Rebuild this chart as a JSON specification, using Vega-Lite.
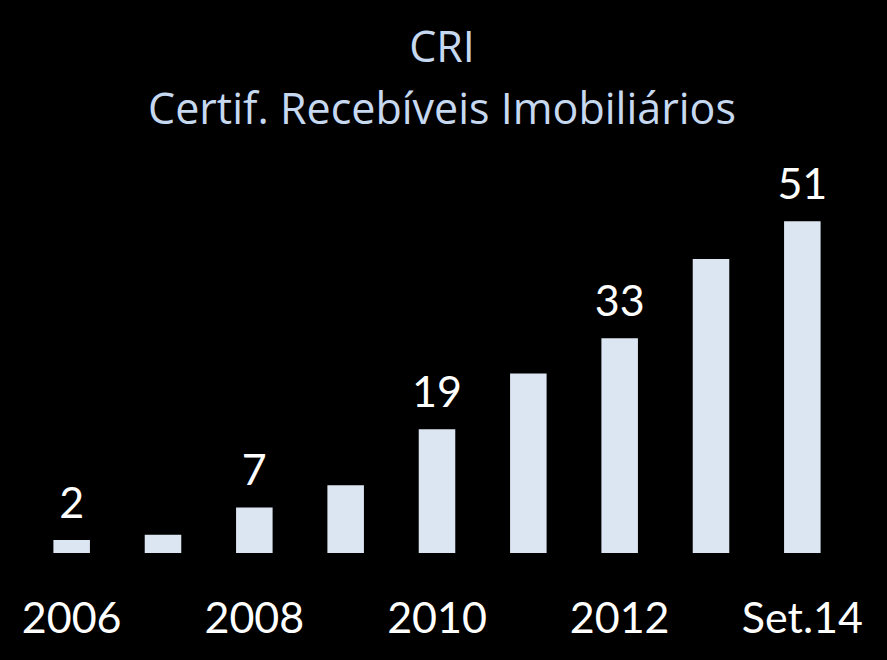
{
  "$schema": "https://vega.github.io/schema/vega-lite/v6.json",
  "width": 822,
  "height": 393,
  "autosize": "none",
  "padding": {"left": 26, "top": 160, "right": 39, "bottom": 107},
  "background": "#000000",
  "config": {
    "view": {"stroke": null},
    "font": "Lato"
  },
  "title": {
    "text": ["CRI", "Certif. Recebíveis Imobiliários"],
    "color": "#C6D9F1",
    "fontSize": 43,
    "fontWeight": "normal",
    "font": "Open Sans",
    "lineHeight": 62,
    "anchor": "middle",
    "frame": "group",
    "dx": 5,
    "offset": 27
  },
  "data": {
    "values": [
      {"period": "2006", "value": 2, "label": "2"},
      {"period": "2007", "value": 2.8, "label": ""},
      {"period": "2008", "value": 7, "label": "7"},
      {"period": "2009", "value": 10.4, "label": ""},
      {"period": "2010", "value": 19, "label": "19"},
      {"period": "2011", "value": 27.6, "label": ""},
      {"period": "2012", "value": 33, "label": "33"},
      {"period": "2013", "value": 45.2, "label": ""},
      {"period": "Set.14", "value": 51, "label": "51"}
    ]
  },
  "encoding": {
    "x": {
      "field": "period",
      "type": "nominal",
      "sort": null,
      "scale": {"paddingInner": 0.6, "paddingOuter": 0.3},
      "axis": {
        "title": null,
        "labelAngle": 0,
        "ticks": false,
        "domain": false,
        "labelPadding": 45,
        "labelFontSize": 43,
        "labelColor": "#FFFFFF",
        "labelFont": "Lato",
        "labelExpr": "indexof(['2006','2008','2010','2012','Set.14'], datum.value) >= 0 ? datum.value : ''"
      }
    },
    "y": {
      "field": "value",
      "type": "quantitative",
      "scale": {"domain": [0, 60.4], "nice": false},
      "axis": null
    }
  },
  "layer": [
    {"mark": {"type": "bar", "color": "#DCE6F2"}},
    {
      "transform": [{"filter": "datum.label != ''"}],
      "mark": {"type": "text", "baseline": "alphabetic", "dy": -22, "fontSize": 43, "color": "#FFFFFF", "font": "Lato"},
      "encoding": {"text": {"field": "label"}}
    }
  ]
}
